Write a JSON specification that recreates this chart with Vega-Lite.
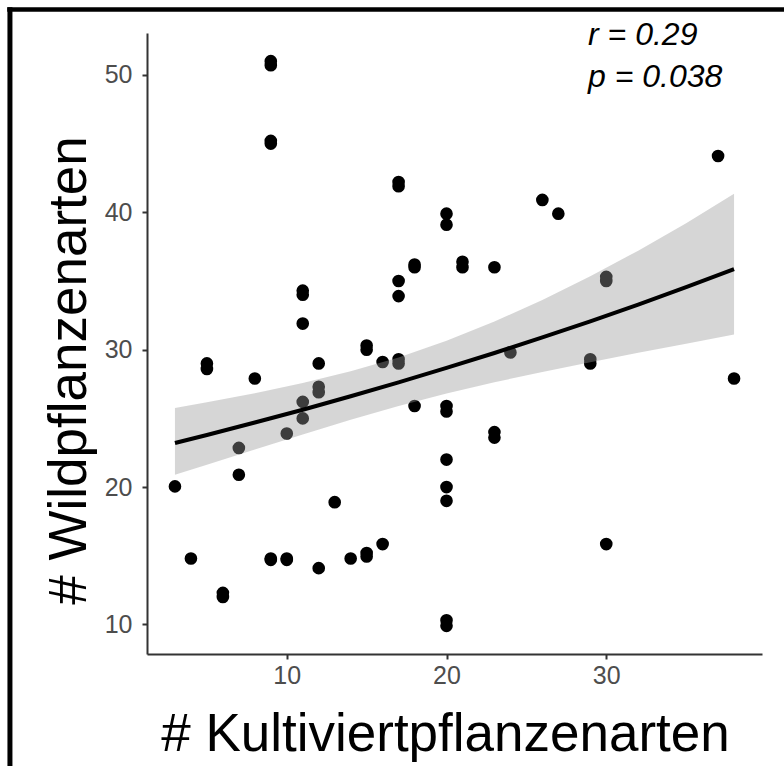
{
  "$schema": "https://vega.github.io/schema/vega-lite/v6.json",
  "width": 615,
  "height": 621,
  "autosize": {"type": "none"},
  "padding": {"left": 147, "top": 33, "right": 22, "bottom": 112},
  "background": "white",
  "config": {
    "view": {"stroke": null},
    "font": "Liberation Sans",
    "axis": {
      "grid": false,
      "domainColor": "#333333",
      "domainWidth": 2,
      "tickColor": "#333333",
      "tickWidth": 2,
      "tickSize": 5,
      "labelColor": "#4D4D4D",
      "labelFontSize": 25,
      "labelFont": "Liberation Sans",
      "titleFont": "Liberation Sans",
      "titleFontSize": 53,
      "titleFontWeight": "normal",
      "titleColor": "black"
    }
  },
  "datasets": {
    "pts": [
      {"k": 9, "w": 51.0}, {"k": 9, "w": 50.7}, {"k": 9, "w": 45.2}, {"k": 9, "w": 45.0},
      {"k": 17, "w": 42.2}, {"k": 17, "w": 41.9}, {"k": 20, "w": 39.9}, {"k": 20, "w": 39.1},
      {"k": 18, "w": 36.2}, {"k": 18, "w": 36.0}, {"k": 21, "w": 36.4}, {"k": 21, "w": 36.0},
      {"k": 11, "w": 34.3}, {"k": 11, "w": 34.0}, {"k": 17, "w": 35.0}, {"k": 17, "w": 33.9},
      {"k": 11, "w": 31.9}, {"k": 15, "w": 30.3}, {"k": 15, "w": 30.0}, {"k": 37, "w": 44.1},
      {"k": 26, "w": 40.9}, {"k": 27, "w": 39.9}, {"k": 23, "w": 36.0}, {"k": 30, "w": 35.3},
      {"k": 30, "w": 35.0}, {"k": 5, "w": 29.0}, {"k": 5, "w": 28.6}, {"k": 8, "w": 27.9},
      {"k": 12, "w": 29.0}, {"k": 12, "w": 27.3}, {"k": 12, "w": 26.9}, {"k": 11, "w": 26.2},
      {"k": 11, "w": 25.0}, {"k": 10, "w": 23.9}, {"k": 7, "w": 22.85}, {"k": 7, "w": 20.9},
      {"k": 3, "w": 20.05}, {"k": 16, "w": 29.1}, {"k": 17, "w": 29.3}, {"k": 17, "w": 29.0},
      {"k": 18, "w": 25.9}, {"k": 20, "w": 25.9}, {"k": 20, "w": 25.5}, {"k": 20, "w": 22.0},
      {"k": 20, "w": 20.0}, {"k": 20, "w": 19.0}, {"k": 13, "w": 18.9}, {"k": 4, "w": 14.8},
      {"k": 9, "w": 14.8}, {"k": 9, "w": 14.7}, {"k": 10, "w": 14.8}, {"k": 10, "w": 14.7},
      {"k": 12, "w": 14.1}, {"k": 14, "w": 14.8}, {"k": 15, "w": 15.2}, {"k": 15, "w": 14.95},
      {"k": 16, "w": 15.85}, {"k": 6, "w": 12.3}, {"k": 6, "w": 12.0}, {"k": 20, "w": 10.3},
      {"k": 20, "w": 9.9}, {"k": 24, "w": 29.8}, {"k": 29, "w": 29.3}, {"k": 29, "w": 29.0},
      {"k": 38, "w": 27.9}, {"k": 23, "w": 24.0}, {"k": 23, "w": 23.6}, {"k": 30, "w": 15.85}
    ],
    "fit": [
      {"k": 3, "fit": 23.21, "lo": 20.90, "hi": 25.76},
      {"k": 5, "fit": 23.79, "lo": 21.63, "hi": 26.17},
      {"k": 8, "fit": 24.70, "lo": 22.73, "hi": 26.83},
      {"k": 11, "fit": 25.63, "lo": 23.83, "hi": 27.57},
      {"k": 14, "fit": 26.61, "lo": 24.90, "hi": 28.43},
      {"k": 17, "fit": 27.62, "lo": 25.91, "hi": 29.44},
      {"k": 20, "fit": 28.67, "lo": 26.81, "hi": 30.65},
      {"k": 23, "fit": 29.76, "lo": 27.63, "hi": 32.05},
      {"k": 26, "fit": 30.89, "lo": 28.38, "hi": 33.62},
      {"k": 29, "fit": 32.06, "lo": 29.09, "hi": 35.34},
      {"k": 32, "fit": 33.28, "lo": 29.77, "hi": 37.21},
      {"k": 35, "fit": 34.55, "lo": 30.44, "hi": 39.21},
      {"k": 38, "fit": 35.86, "lo": 31.10, "hi": 41.35}
    ],
    "one": [{}]
  },
  "layer": [
    {
      "data": {"name": "pts"},
      "mark": {"type": "circle", "size": 160, "color": "black", "opacity": 1},
      "encoding": {
        "x": {
          "field": "k", "type": "quantitative",
          "scale": {"domain": [1.25, 39.75], "nice": false, "zero": false},
          "title": "# Kultiviertpflanzenarten",
          "axis": {"values": [10, 20, 30], "labelPadding": 4, "titleX": 298, "titleY": 96, "titleBaseline": "alphabetic", "titleAnchor": "middle"}
        },
        "y": {
          "field": "w", "type": "quantitative",
          "scale": {"domain": [7.85, 53.05], "nice": false, "zero": false},
          "title": "# Wildpflanzenarten",
          "axis": {"values": [10, 20, 30, 40, 50], "labelPadding": 10, "titleX": -62, "titleY": 337, "titleAngle": -90, "titleBaseline": "alphabetic", "titleAnchor": "middle"}
        }
      }
    },
    {
      "data": {"name": "fit"},
      "mark": {"type": "area", "color": "#999999", "opacity": 0.4},
      "encoding": {
        "x": {"field": "k", "type": "quantitative", "scale": {"domain": [1.25, 39.75], "nice": false, "zero": false}, "title": "# Kultiviertpflanzenarten"},
        "y": {"field": "lo", "type": "quantitative", "scale": {"domain": [7.85, 53.05], "nice": false, "zero": false}, "title": "# Wildpflanzenarten"},
        "y2": {"field": "hi"}
      }
    },
    {
      "data": {"name": "fit"},
      "mark": {"type": "line", "color": "black", "strokeWidth": 4},
      "encoding": {
        "x": {"field": "k", "type": "quantitative", "scale": {"domain": [1.25, 39.75], "nice": false, "zero": false}, "title": "# Kultiviertpflanzenarten"},
        "y": {"field": "fit", "type": "quantitative", "scale": {"domain": [7.85, 53.05], "nice": false, "zero": false}, "title": "# Wildpflanzenarten"}
      }
    },
    {
      "data": {"name": "one"},
      "mark": {"type": "text", "text": "r = 0.29", "fontSize": 32, "fontStyle": "italic", "align": "left", "baseline": "alphabetic", "color": "black"},
      "encoding": {
        "x": {"datum": 28.86, "type": "quantitative", "title": "# Kultiviertpflanzenarten"},
        "y": {"datum": 52.18, "type": "quantitative", "title": "# Wildpflanzenarten"}
      }
    },
    {
      "data": {"name": "one"},
      "mark": {"type": "text", "text": "p = 0.038", "fontSize": 32, "fontStyle": "italic", "align": "left", "baseline": "alphabetic", "color": "black"},
      "encoding": {
        "x": {"datum": 28.86, "type": "quantitative", "title": "# Kultiviertpflanzenarten"},
        "y": {"datum": 49.12, "type": "quantitative", "title": "# Wildpflanzenarten"}
      }
    },
    {
      "data": {"name": "one"},
      "mark": {"type": "rule", "color": "black", "strokeWidth": 5, "strokeCap": "butt"},
      "encoding": {
        "x": {"datum": -7.33, "type": "quantitative", "title": "# Kultiviertpflanzenarten"},
        "y": {"datum": 54.92, "type": "quantitative", "title": "# Wildpflanzenarten"},
        "y2": {"datum": -5}
      }
    },
    {
      "data": {"name": "one"},
      "mark": {"type": "rule", "color": "black", "strokeWidth": 4.5, "strokeCap": "butt"},
      "encoding": {
        "x": {"datum": -7.5, "type": "quantitative", "title": "# Kultiviertpflanzenarten"},
        "x2": {"datum": 45},
        "y": {"datum": 54.76, "type": "quantitative", "title": "# Wildpflanzenarten"}
      }
    }
  ]
}
